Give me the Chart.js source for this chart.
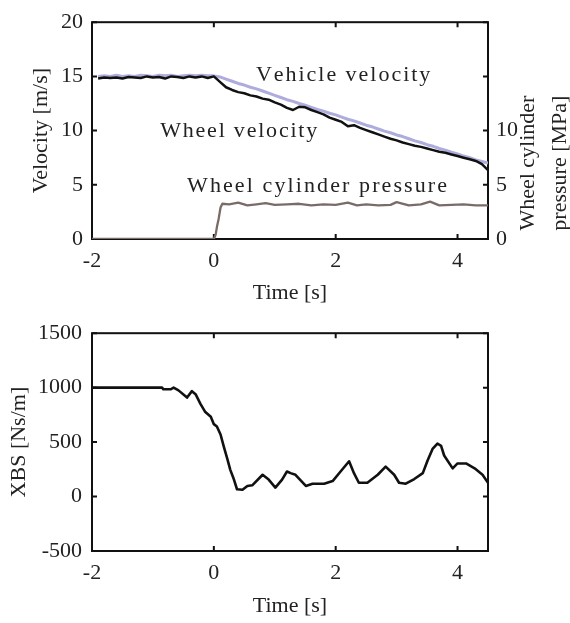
<!DOCTYPE html>
<html lang="en">
<head>
<meta charset="UTF-8">
<title>Velocity, pressure and XBS</title>
<script src="https://cdn.jsdelivr.net/npm/chart.js@4.4.1/dist/chart.umd.min.js"></script>
<style>
  body { margin: 0; background: #fff; }
  .wrap { position: relative; width: 570px; height: 623px; }
  #topChart { position: absolute; left: 0; top: 0; }
  #bottomChart { position: absolute; left: 0; top: 310px; }
</style>
</head>
<body>
<div class="wrap">
  <canvas id="topChart" width="570" height="310"></canvas>
  <canvas id="bottomChart" width="570" height="313"></canvas>
</div>
<script>
// tick values
const timeTicks = [-2, 0, 2, 4];
const velocityTicks = [0, 5, 10, 15, 20];
const pressureTicks = [0, 5, 10, 15, 20];
const xbsTicks = [-500, 0, 500, 1000, 1500];

// velocity samples [s]
const speedTime = [
  -1.9, -1.8, -1.7, -1.6, -1.5, -1.4, -1.3, -1.2, -1.1, -1.0,
  -0.9, -0.8, -0.7, -0.6, -0.5, -0.4, -0.3, -0.2, -0.1, 0.0,
  0.1, 0.2, 0.3, 0.4, 0.5, 0.6, 0.7, 0.8, 0.9, 1.0,
  1.1, 1.2, 1.3, 1.4, 1.5, 1.6, 1.7, 1.8, 1.9, 2.0,
  2.1, 2.2, 2.3, 2.4, 2.5, 2.6, 2.7, 2.8, 2.9, 3.0,
  3.1, 3.2, 3.3, 3.4, 3.5, 3.6, 3.7, 3.8, 3.9, 4.0,
  4.1, 4.2, 4.3, 4.4, 4.5
];
// m/s
const vehicleVelocity = [
  15.0, 15.05, 15.0, 15.1, 15.0, 15.05, 15.0, 15.1, 15.05, 15.0,
  15.1, 15.05, 15.1, 15.0, 15.05, 15.1, 15.05, 15.1, 15.05, 15.05,
  14.95, 14.75, 14.55, 14.35, 14.2, 14.0, 13.85, 13.65, 13.45, 13.25,
  13.05, 12.85, 12.7, 12.5, 12.35, 12.15, 11.95, 11.8, 11.6, 11.45,
  11.25, 11.05, 10.9, 10.7, 10.5, 10.35, 10.15, 9.95, 9.8, 9.6,
  9.45, 9.25, 9.05, 8.9, 8.7, 8.55, 8.35, 8.2, 8.0, 7.85,
  7.65, 7.5, 7.3, 7.15, 7.0
];
const wheelVelocity = [
  14.8, 14.9, 14.85, 14.9, 14.8, 14.95, 14.9, 14.85, 15.0, 14.9,
  14.95, 14.8, 15.0, 14.95, 14.85, 15.0, 14.9, 15.0, 14.85, 15.0,
  14.5, 14.0, 13.75, 13.55, 13.45, 13.25, 13.15, 12.95, 12.85, 12.6,
  12.4, 12.1, 11.9, 12.2, 12.15, 11.9, 11.7, 11.5, 11.2, 11.0,
  10.8, 10.4, 10.5, 10.25, 10.05, 9.85, 9.65, 9.45, 9.25, 9.1,
  8.9, 8.75, 8.6, 8.5, 8.35, 8.2, 8.05, 7.95, 7.8, 7.65,
  7.5, 7.35, 7.2, 6.9, 6.35
];

// wheel cylinder pressure [MPa]
const pressureTime = [
  -2, 0, 0.03, 0.05, 0.08, 0.11, 0.14, 0.25, 0.4, 0.55,
  0.7, 0.85, 1.0, 1.2, 1.4, 1.6, 1.8, 2.0, 2.2, 2.35,
  2.5, 2.7, 2.9, 3.0, 3.2, 3.4, 3.55, 3.7, 3.9, 4.1,
  4.3, 4.5
];
const wheelPressure = [
  0, 0, 0.4, 1.1, 1.9, 2.9, 3.25, 3.2, 3.35, 3.1,
  3.2, 3.3, 3.15, 3.2, 3.25, 3.1, 3.2, 3.15, 3.35, 3.1,
  3.2, 3.1, 3.15, 3.4, 3.1, 3.2, 3.45, 3.1, 3.15, 3.2,
  3.1, 3.1
];

// XBS [Ns/m]
const xbsTime = [
  -2, -0.85, -0.83, -0.71, -0.66, -0.58, -0.44, -0.36, -0.3, -0.22,
  -0.14, -0.05, 0, 0.05, 0.11, 0.16, 0.22, 0.27, 0.33, 0.38,
  0.47, 0.55, 0.63, 0.8, 0.9, 1.01, 1.12, 1.2, 1.26, 1.34,
  1.51, 1.62, 1.81, 1.95, 2.08, 2.22, 2.3, 2.38, 2.52, 2.69,
  2.82, 2.96, 3.04, 3.15, 3.29, 3.43, 3.51, 3.59, 3.67, 3.73,
  3.78, 3.92, 4.0, 4.14, 4.28, 4.41, 4.5
];
const xbsValues = [
  1000, 1000, 985, 985, 1000, 975, 909, 968, 940, 851,
  776, 732, 665, 643, 570, 466, 348, 245, 156, 67,
  62, 97, 103, 200, 156, 82, 156, 230, 215, 200,
  97, 118, 118, 142, 230, 324, 215, 127, 127, 200,
  275, 200, 127, 118, 161, 215, 333, 437, 487, 466,
  377, 259, 304, 304, 259, 200, 127
];

const FONT = "'Liberation Serif', 'Times New Roman', serif";
const TEXT = '#222';

function pairs(xs, ys) {
  return xs.map((x, i) => ({ x: x, y: ys[i] }));
}
function fixTicks(values) {
  return scale => { scale.ticks = values.map(v => ({ value: v })); };
}

// box around the plot with inward tick marks (matlab look)
const frameTicks = {
  id: 'frameTicks',
  beforeDatasetsDraw(chart) {
    const { ctx, chartArea: a, scales } = chart;
    const len = 5;
    ctx.save();
    ctx.strokeStyle = '#111';
    ctx.lineWidth = 2;
    ctx.strokeRect(a.left, a.top, a.right - a.left, a.bottom - a.top);
    ctx.beginPath();
    scales.x.ticks.forEach(t => {
      const px = scales.x.getPixelForValue(t.value);
      ctx.moveTo(px, a.bottom); ctx.lineTo(px, a.bottom - len);
      ctx.moveTo(px, a.top); ctx.lineTo(px, a.top + len);
    });
    scales.y.ticks.forEach(t => {
      const py = scales.y.getPixelForValue(t.value);
      ctx.moveTo(a.left, py); ctx.lineTo(a.left + len, py);
      ctx.moveTo(a.right, py); ctx.lineTo(a.right - len, py);
    });
    ctx.stroke();
    ctx.restore();
  }
};

// draws text one char at a time so it spreads over the given width
function spreadText(ctx, text, x, y, width) {
  const chars = Array.from(text);
  const natural = ctx.measureText(text).width;
  const gap = width ? (width - natural) / (chars.length - 1) : 0;
  let cx = x;
  chars.forEach(ch => {
    ctx.fillText(ch, cx, y);
    cx += ctx.measureText(ch).width + gap;
  });
}

// text labels placed in data coordinates + optional right title
const curveLabels = {
  id: 'curveLabels',
  afterDatasetsDraw(chart, args, opts) {
    const { ctx, scales, chartArea: a } = chart;
    ctx.save();
    ctx.fillStyle = TEXT;
    ctx.font = '22px ' + FONT;
    ctx.textAlign = 'left';
    ctx.textBaseline = 'alphabetic';
    (opts.items || []).forEach(item => {
      spreadText(ctx, item.text, scales.x.getPixelForValue(item.x), scales.y.getPixelForValue(item.y), item.width);
    });
    if (opts.rightTitle) {
      ctx.translate(a.right + 40, a.top + (a.bottom - a.top) * 0.65);
      ctx.rotate(-Math.PI / 2);
      ctx.textAlign = 'center';
      ctx.textBaseline = 'middle';
      opts.rightTitle.forEach((line, i) => ctx.fillText(line, 0, i * 32));
    }
    ctx.restore();
  }
};

const tickFont = { family: FONT, size: 22 };
const plain = v => String(v);

new Chart(document.getElementById('topChart'), {
  type: 'line',
  data: {
    datasets: [
      { label: 'Wheel velocity', data: pairs(speedTime, wheelVelocity), borderColor: '#111', borderWidth: 2.5, yAxisID: 'y' },
      { label: 'Vehicle velocity', data: pairs(speedTime, vehicleVelocity), borderColor: '#aeacdc', borderWidth: 3, yAxisID: 'y' },
      { label: 'Wheel cylinder pressure', data: pairs(pressureTime, wheelPressure), borderColor: '#7a6b68', borderWidth: 2.3, yAxisID: 'y1' }
    ]
  },
  options: {
    responsive: false,
    animation: false,
    devicePixelRatio: 1,
    elements: { point: { radius: 0 }, line: { tension: 0, borderJoinStyle: 'round' } },
    layout: { padding: { top: 14, left: 0, right: 0, bottom: 0 } },
    plugins: {
      legend: { display: false },
      tooltip: { enabled: false },
      curveLabels: {
        items: [
          { text: 'Vehicle velocity', x: 0.69, y: 14.6, width: 172 },
          { text: 'Wheel velocity', x: -0.88, y: 9.45, width: 157 },
          { text: 'Wheel cylinder pressure', x: -0.44, y: 4.3, width: 260 }
        ],
        rightTitle: ['Wheel cylinder', 'pressure [MPa]']
      }
    },
    scales: {
      x: {
        type: 'linear', min: -2, max: 4.5,
        afterBuildTicks: fixTicks(timeTicks),
        afterFit: s => { s.height = 71; },
        grid: { display: false, drawTicks: false },
        border: { display: false },
        ticks: { font: tickFont, color: TEXT, padding: 9, maxRotation: 0, callback: plain },
        title: { display: true, text: 'Time [s]', font: tickFont, color: TEXT, padding: { top: 3 } }
      },
      y: {
        position: 'left', min: 0, max: 20,
        afterBuildTicks: fixTicks(velocityTicks),
        afterFit: s => { s.width = 92; },
        grid: { display: false, drawTicks: false },
        border: { display: false },
        ticks: { font: tickFont, color: TEXT, padding: 9, callback: plain },
        title: { display: true, text: 'Velocity [m/s]', font: tickFont, color: TEXT, padding: { top: 28 } }
      },
      y1: {
        position: 'right', min: 0, max: 20,
        afterBuildTicks: fixTicks(pressureTicks),
        afterFit: s => { s.width = 82; },
        grid: { display: false, drawTicks: false },
        border: { display: false },
        ticks: { font: tickFont, color: TEXT, padding: 8, callback: v => (v <= 10 ? String(v) : '') }
      }
    }
  },
  plugins: [frameTicks, curveLabels]
});

new Chart(document.getElementById('bottomChart'), {
  type: 'line',
  data: {
    datasets: [
      { label: 'XBS', data: pairs(xbsTime, xbsValues), borderColor: '#111', borderWidth: 2.6 }
    ]
  },
  options: {
    responsive: false,
    animation: false,
    devicePixelRatio: 1,
    elements: { point: { radius: 0 }, line: { tension: 0, borderJoinStyle: 'round' } },
    layout: { padding: { top: 15, left: 0, right: 82, bottom: 0 } },
    plugins: { legend: { display: false }, tooltip: { enabled: false } },
    scales: {
      x: {
        type: 'linear', min: -2, max: 4.5,
        afterBuildTicks: fixTicks(timeTicks),
        afterFit: s => { s.height = 72; },
        grid: { display: false, drawTicks: false },
        border: { display: false },
        ticks: { font: tickFont, color: TEXT, padding: 9, maxRotation: 0, callback: plain },
        title: { display: true, text: 'Time [s]', font: tickFont, color: TEXT, padding: { top: 6 } }
      },
      y: {
        min: -500, max: 1500,
        afterBuildTicks: fixTicks(xbsTicks),
        afterFit: s => { s.width = 92; },
        grid: { display: false, drawTicks: false },
        border: { display: false },
        ticks: { font: tickFont, color: TEXT, padding: 10, callback: plain },
        title: { display: true, text: 'XBS [Ns/m]', font: tickFont, color: TEXT, padding: { top: 6 } }
      }
    }
  },
  plugins: [frameTicks]
});
</script>
</body>
</html>
